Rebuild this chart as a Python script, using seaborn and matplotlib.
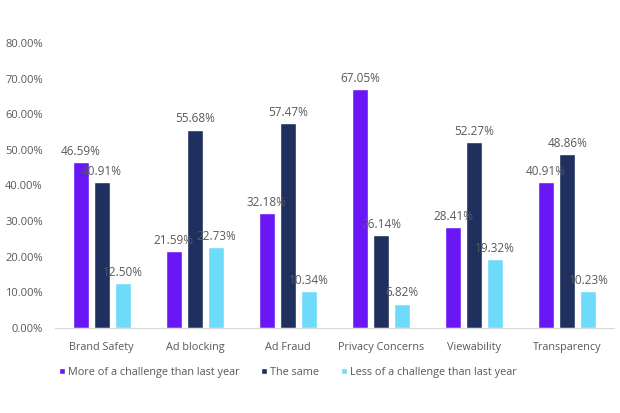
import pandas as pd
import matplotlib
matplotlib.use("Agg")
import matplotlib.pyplot as plt
import seaborn as sns
from matplotlib.patches import Patch
from matplotlib.ticker import FuncFormatter

categories = ["Brand Safety", "Ad blocking", "Ad Fraud", "Privacy Concerns", "Viewability", "Transparency"]
series = ["More of a challenge than last year", "The same", "Less of a challenge than last year"]
more_challenge = [46.59, 21.59, 32.18, 67.05, 28.41, 40.91]
same = [40.91, 55.68, 57.47, 26.14, 52.27, 48.86]
less_challenge = [12.50, 22.73, 10.34, 6.82, 19.32, 10.23]

colors = ["#6A17F6", "#1F2F5E", "#6FDBFA"]
text_color = "#595959"

rows = []
for name, vals in zip(series, [more_challenge, same, less_challenge]):
    for cat, v in zip(categories, vals):
        rows.append({"category": cat, "series": name, "value": v})
df = pd.DataFrame(rows)

sns.set_style("white")
plt.rcParams["font.family"] = ["Open Sans", "DejaVu Sans"]

fig = plt.figure(figsize=(6.2, 4.13), dpi=100)
ax = fig.add_axes([0.089, 0.206, 0.901, 0.69])

sns.barplot(data=df, x="category", y="value", hue="series", order=categories,
            hue_order=series, palette=colors, width=0.68, gap=0.24,
            saturation=1, legend=False, ax=ax)

for container in ax.containers:
    ax.bar_label(container, labels=[f"{v:.2f}%" for v in container.datavalues],
                 padding=3, fontsize=8.5, color=text_color)

ax.set_ylim(0, 80)
ax.set_xlim(-0.5, 5.5)
ax.set_yticks(range(0, 81, 10))
ax.yaxis.set_major_formatter(FuncFormatter(lambda v, p: f"{v:.2f}%"))
ax.set_xlabel("")
ax.set_ylabel("")
ax.tick_params(axis="y", length=0, labelsize=8, colors=text_color, pad=9)
ax.tick_params(axis="x", length=0, labelsize=7.8, colors=text_color, pad=10)
for s in ["top", "right", "left"]:
    ax.spines[s].set_visible(False)
ax.spines["bottom"].set_color("#D9D9D9")

handles = [Patch(facecolor=c, label=s) for c, s in zip(colors, series)]
fig.legend(handles=handles, loc="center left", bbox_to_anchor=(0.095, 0.098), ncol=3,
           frameon=False, fontsize=7.8, handlelength=0.55, handleheight=0.55,
           handletextpad=0.3, columnspacing=2.0, labelcolor=text_color,
           borderaxespad=0, borderpad=0)

fig.savefig("out.png", dpi=100)
